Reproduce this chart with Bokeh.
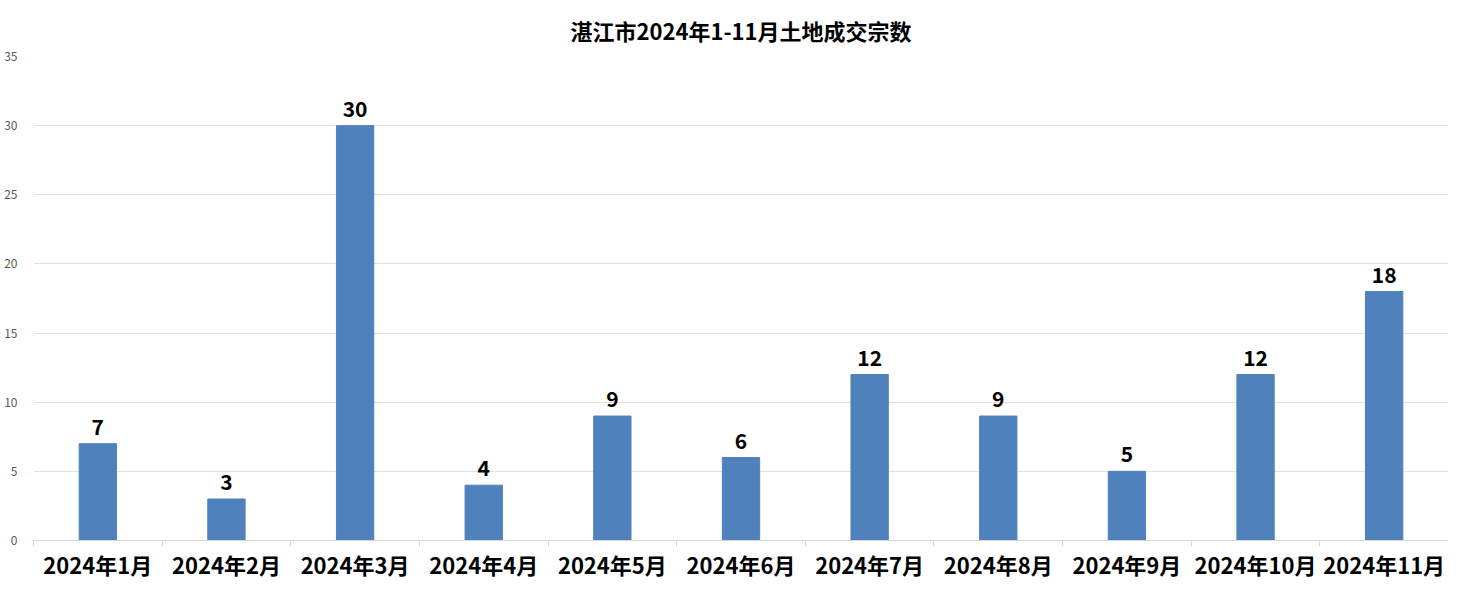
from bokeh.plotting import figure
from bokeh.models import ColumnDataSource, FixedTicker, Range1d
from bokeh.core.properties import value
from bokeh.embed import file_html
from bokeh.resources import INLINE

title = "湛江市2024年1-11月土地成交宗数"
months = ["2024年1月", "2024年2月", "2024年3月", "2024年4月", "2024年5月", "2024年6月",
          "2024年7月", "2024年8月", "2024年9月", "2024年10月", "2024年11月"]
counts = [7, 3, 30, 4, 9, 6, 12, 9, 5, 12, 18]
y_ticks = [0, 5, 10, 15, 20, 25, 30, 35]

FONT = "Noto Sans CJK SC"
GRID = "#d9d9d9"

centers = [i + 0.5 for i in range(len(months))]
bounds = list(range(len(months) + 1))
source = ColumnDataSource(dict(x=centers, y=counts, label=[str(c) for c in counts]))

p = figure(width=1448, height=582, output_backend="svg", toolbar_location=None,
           x_range=Range1d(0, len(months)), y_range=Range1d(0, y_ticks[-1]),
           min_border_left=33, min_border_right=0,
           min_border_top=56, min_border_bottom=39)
p.outline_line_color = None
p.background_fill_color = "white"

p.title.text = title
p.title.align = "center"
p.title.text_font = FONT
p.title.text_font_size = "22px"
p.title.text_font_style = "bold"
p.title.text_color = "#000000"
p.title.standoff = 22

p.vbar(x="x", top="y", width=0.29, source=source, color="#4F81BD")
p.text(x="x", y="y", text="label", source=source, text_align="center",
       text_baseline="bottom", y_offset=-9, text_font=value(FONT),
       text_font_size="21px", text_font_style="bold", text_color="#000000")

# y axis
yax = p.yaxis[0]
yax.ticker = FixedTicker(ticks=y_ticks)
yax.axis_line_color = None
yax.major_tick_line_color = None
yax.minor_tick_line_color = None
yax.major_label_text_font = FONT
yax.major_label_text_font_size = "12px"
yax.major_label_text_color = "#595959"
yax.major_label_standoff = 10

p.ygrid.ticker = FixedTicker(ticks=y_ticks[1:])
p.ygrid.grid_line_color = "#e0e0e0"
p.xgrid.grid_line_color = None

# x axis: labels at category centres, tick marks at category boundaries
xax = p.xaxis[0]
xax.ticker = FixedTicker(ticks=centers, minor_ticks=bounds)
xax.major_label_overrides = {c: m for c, m in zip(centers, months)}
xax.axis_line_color = GRID
xax.major_tick_line_color = None
xax.minor_tick_line_color = GRID
xax.minor_tick_in = 0
xax.minor_tick_out = 6
xax.major_label_text_font = FONT
xax.major_label_text_font_size = "22px"
xax.major_label_text_font_style = "bold"
xax.major_label_text_color = "#000000"
xax.major_label_standoff = 1

open("out.html", "w").write(file_html(p, INLINE))
